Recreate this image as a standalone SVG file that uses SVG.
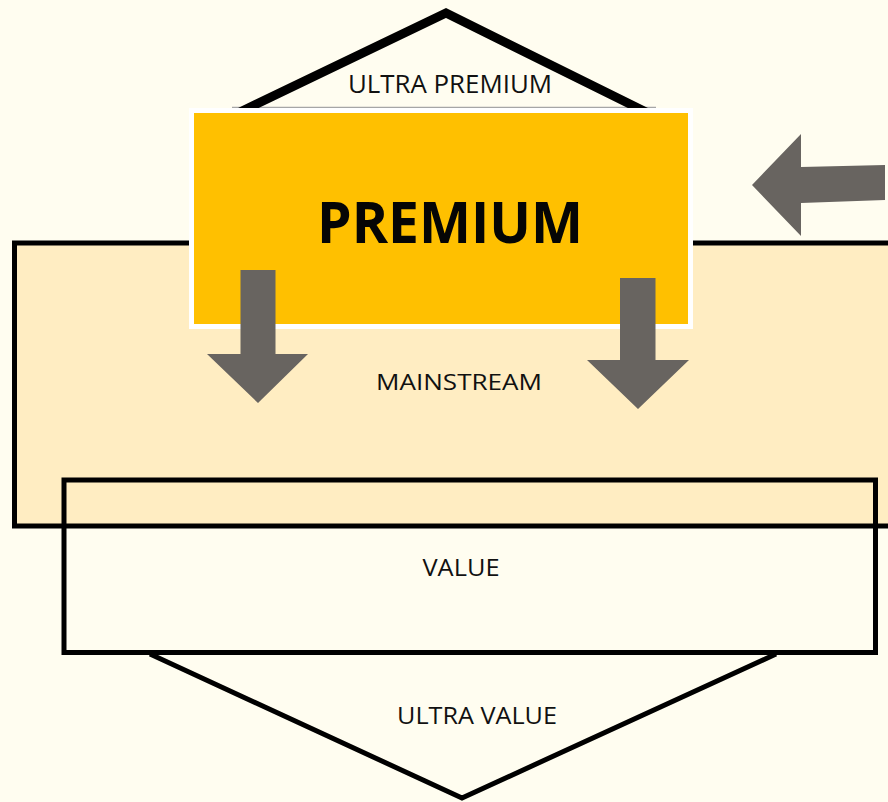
<svg xmlns="http://www.w3.org/2000/svg" width="888" height="802" viewBox="0 0 888 802">
  <style>
    .label { font-family: "Open Sans", "Liberation Sans", sans-serif; fill: #111111; text-anchor: middle; }
    .tier { fill: none; stroke: #000000; stroke-width: 5; }
    .arrow { fill: #686460; }
  </style>
  <rect width="888" height="802" fill="#FFFDF0"/>

  <!-- Ultra premium roof -->
  <g id="ultra-premium">
    <line x1="232" y1="107.5" x2="656" y2="107.5" stroke="#A6A6A6" stroke-width="1.5"/>
    <polyline points="240,112 446,13 646,112" fill="none" stroke="#000000" stroke-width="9" stroke-linejoin="miter"/>
    <text class="label" x="450" y="93" font-size="25" textLength="204" lengthAdjust="spacingAndGlyphs">ULTRA PREMIUM</text>
  </g>

  <!-- Mainstream band -->
  <g id="mainstream">
    <rect x="14.5" y="243" width="900" height="283" fill="#FFEDC2" stroke="#000000" stroke-width="5"/>
    <text class="label" x="459" y="389.5" font-size="22.5" textLength="166" lengthAdjust="spacingAndGlyphs">MAINSTREAM</text>
  </g>

  <!-- Value band -->
  <g id="value">
    <rect class="tier" x="64" y="480" width="811.5" height="172.5"/>
    <text class="label" x="461" y="576" font-size="23" textLength="77" lengthAdjust="spacingAndGlyphs">VALUE</text>
  </g>

  <!-- Ultra value base -->
  <g id="ultra-value">
    <polyline points="150,654 462,798 776,654" fill="none" stroke="#000000" stroke-width="5"/>
    <text class="label" x="477" y="724" font-size="23" textLength="160" lengthAdjust="spacingAndGlyphs">ULTRA VALUE</text>
  </g>

  <!-- Premium block -->
  <g id="premium">
    <rect x="191.5" y="110.5" width="499" height="216" fill="#FFC000" stroke="#FFFFFF" stroke-width="5"/>
    <text class="label" x="450" y="242.5" font-size="57" font-weight="bold" fill="#050505" style="fill:#050505" textLength="266" lengthAdjust="spacingAndGlyphs">PREMIUM</text>
  </g>

  <!-- Flow arrows -->
  <g id="connectors">
    <polygon class="arrow" points="240.5,270 275.5,270 275.5,354 308,354 258,403 207,354 240.5,354"/>
    <polygon class="arrow" points="620,278 655.5,278 655.5,360 689,360 638,409 587,360 620,360"/>
    <polygon class="arrow" points="752,185 801,134 801,167 885,165 885,200 801,203 801,236"/>
  </g>
</svg>
